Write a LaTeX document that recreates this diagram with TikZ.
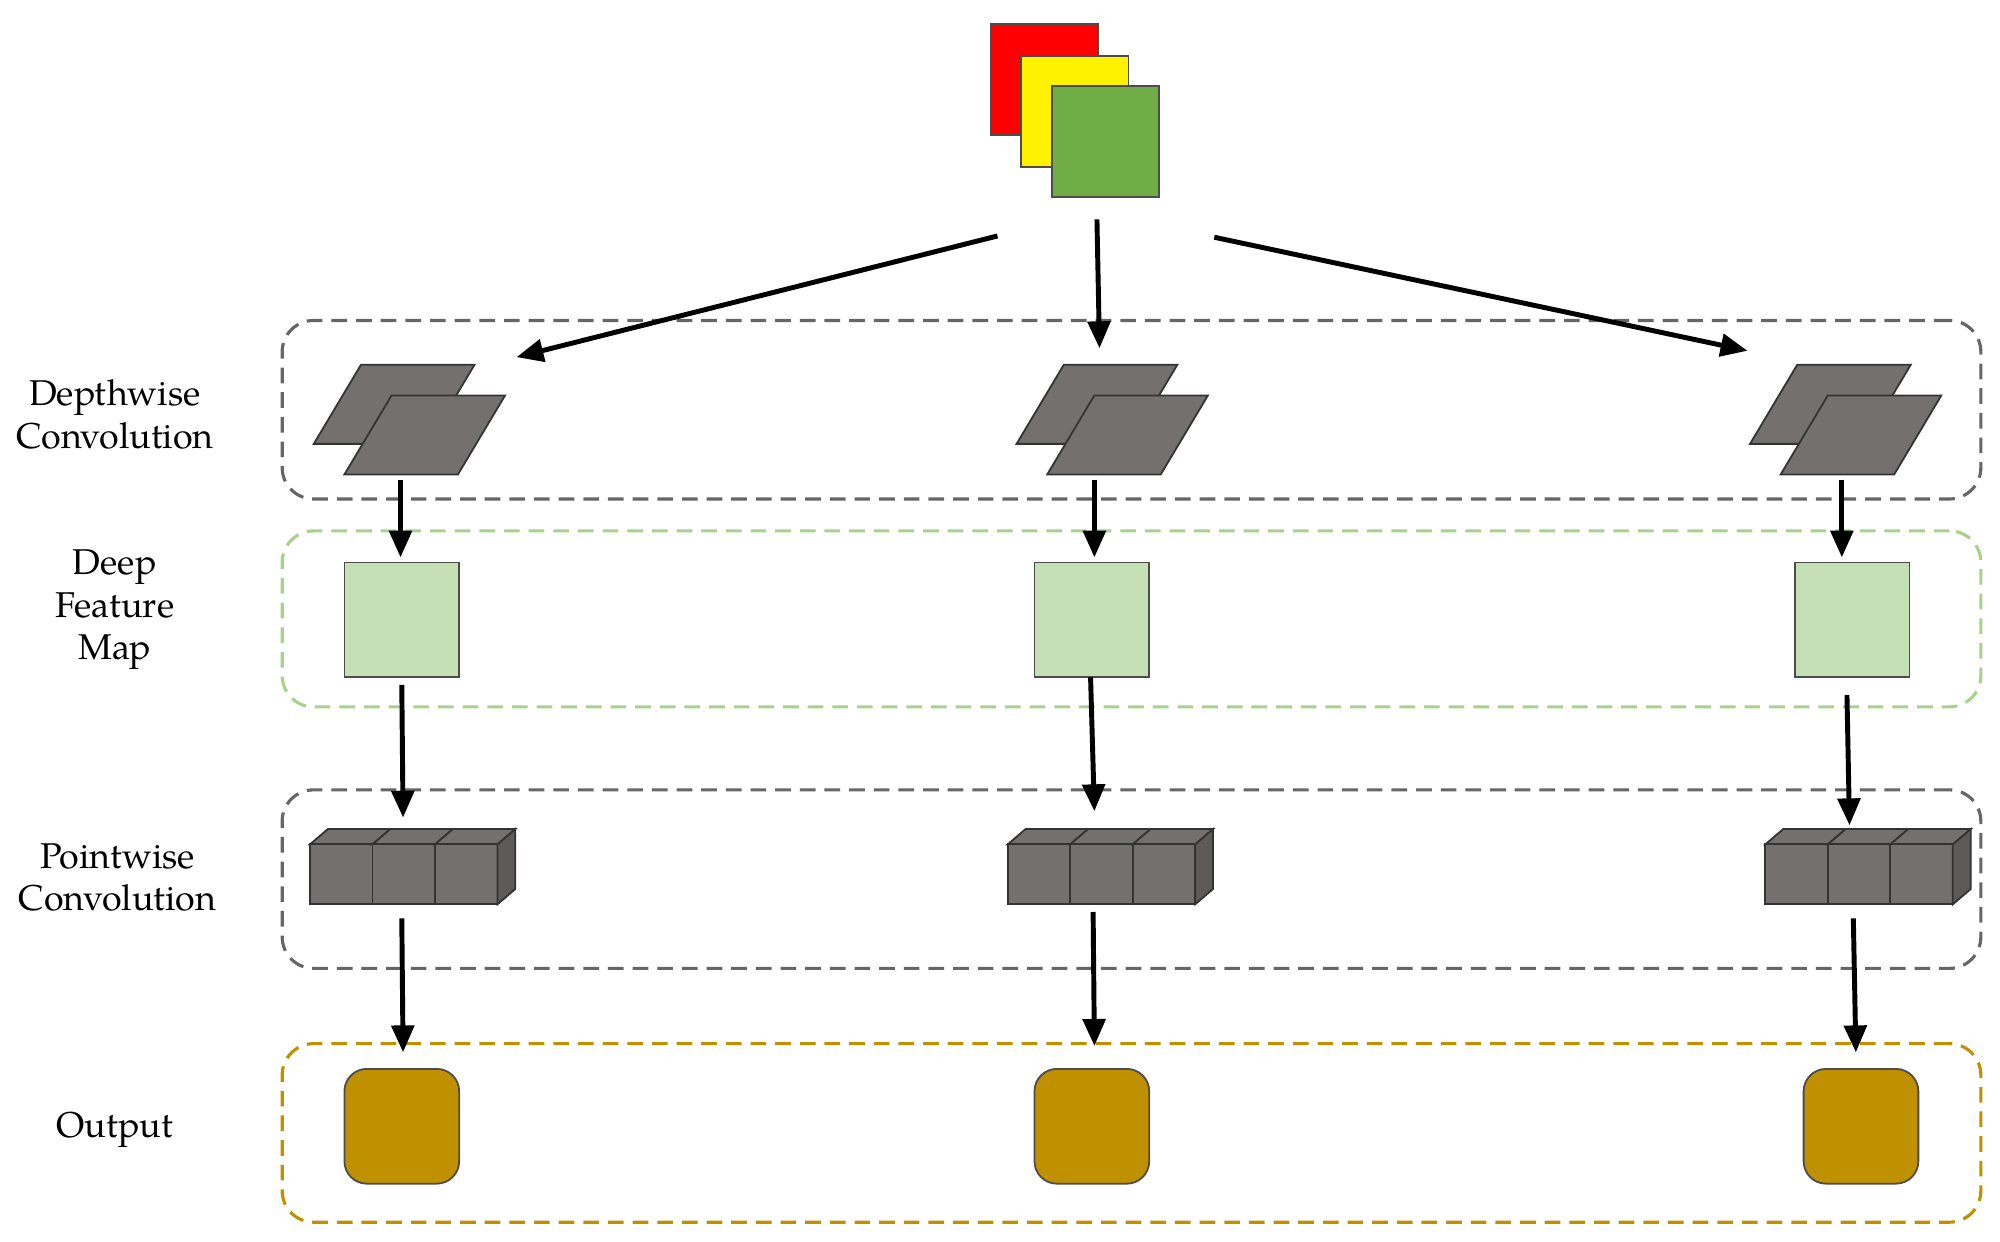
\documentclass[tikz,border=0pt]{standalone}
\usepackage{fontspec}
\setmainfont{TeX Gyre Pagella}
\usetikzlibrary{arrows.meta}
\begin{document}
\begin{tikzpicture}[x=0.02cm,y=-0.02cm,
  arr/.style={-{Triangle[length=12pt,width=10pt]},line width=2.2pt,black},
  grp/.style={dashed,rounded corners=14pt,line width=1.4pt,dash pattern=on 7pt off 4pt},
  lab/.style={align=center,font=\fontsize{16}{19}\selectfont},
  sq/.style={minimum width=1.8cm,minimum height=1.8cm,draw=black!70,line width=0.8pt,inner sep=0}]
\definecolor{dg}{HTML}{757070}
\definecolor{lg}{HTML}{C5E0B4}
\definecolor{au}{HTML}{BF9000}
\useasboundingbox (0,0) rectangle (1568,973);
% input
\node[sq,minimum width=1.68cm,minimum height=1.74cm,fill=red,anchor=north west] (r) at (776,18) {};
\node[sq,minimum width=1.68cm,minimum height=1.74cm,fill=yellow,anchor=north west] (y) at (800,43) {};
\node[sq,minimum width=1.68cm,minimum height=1.74cm,fill={rgb,255:red,112;green,173;blue,71},anchor=north west] (g) at (824,67) {};
% groups
\node[grp,draw=gray!80!black,minimum width=26.64cm,minimum height=2.8cm,anchor=north west] (b1) at (220,250) {};
\node[grp,draw={rgb,255:red,169;green,209;blue,142},minimum width=26.64cm,minimum height=2.76cm,anchor=north west] (b2) at (220,415) {};
\node[grp,draw=gray!80!black,minimum width=26.64cm,minimum height=2.8cm,anchor=north west] (b3) at (220,618) {};
\node[grp,draw=au,minimum width=26.64cm,minimum height=2.8cm,anchor=north west] (b4) at (220,817) {};
\node[lab] (l1) at (90,325) {Depthwise\\Convolution};
\node[lab] (l2) at (90,478) {Deep\\Feature\\Map};
\node[lab] (l3) at (92,688) {Pointwise\\Convolution};
\node[lab] (l4) at (90,886) {Output};
% columns
\foreach \i/\px/\sx/\cx/\ox in {1/0/315/243/315, 2/551/856/790/856, 3/1126/1452/1384/1459}{
  \begin{scope}[xshift=\px*0.02cm]
    \draw[fill=dg,draw=black!80,line width=0.8pt] (246,348)--(335,348)--(372,286)--(283,286)--cycle;
    \draw[fill=dg,draw=black!80,line width=0.8pt] (270,372)--(359,372)--(396,310)--(307,310)--cycle;
    \coordinate (p\i) at (314,376);
  \end{scope}
  \node[sq,fill=lg] (f\i) at (\sx,486) {};
  \foreach \k in {0,1,2}{
    \draw[fill=dg,draw=black!80,line width=0.8pt] (\cx+\k*49,662)--(\cx+\k*49+14,650)--(\cx+\k*49+63,650)--(\cx+\k*49+49,662)--cycle;
    \draw[fill=dg,draw=black!80,line width=0.8pt] (\cx+\k*49,662) rectangle (\cx+\k*49+49,709);
  }
  \draw[fill=dg!80!black,draw=black!80,line width=0.8pt] (\cx+147,662)--(\cx+161,650)--(\cx+161,697)--(\cx+147,709)--cycle;
  \node[minimum width=2.94cm,minimum height=1.18cm,anchor=north west,inner sep=0] (c\i) at (\cx,650) {};
  \node[sq,fill=au,rounded corners=10pt] (o\i) at (\ox,883) {};
}
% arrows
\draw[arr] (782,185) -- (405,280);
\draw[arr] (860,172) -- (862,273);
\draw[arr] (952,186) -- (1370,275);
\draw[arr] (314,376) -- (314,437);
\draw[arr] (858,376) -- (858,437);
\draw[arr] (1444,376) -- (1444,437);
\draw[arr] (315,537) -- (316,641);
\draw[arr] (855,531) -- (858,636);
\draw[arr] (1448,545) -- (1450,647);
\draw[arr] (315,720) -- (316,825);
\draw[arr] (857,715) -- (858,820);
\draw[arr] (1453,720) -- (1455,825);
\end{tikzpicture}
\end{document}
